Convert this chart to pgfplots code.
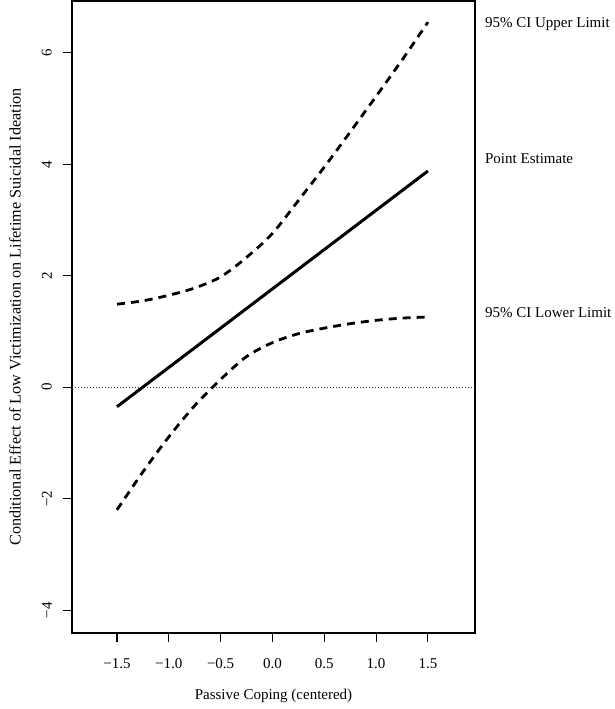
\documentclass[border=0pt]{standalone}
\usepackage{fontspec}
\setmainfont{Liberation Serif}
\usepackage{pgfplots}
\pgfplotsset{compat=1.18}
\pgfplotstableread{
x est
-1.5 -0.35
1.5 3.88
}\esttab
\pgfplotstableread{
x up
-1.50 1.49
-1.25 1.55
-1.00 1.65
-0.75 1.78
-0.50 1.98
-0.25 2.33
0.00 2.76
0.25 3.35
0.50 3.95
0.75 4.58
1.00 5.22
1.25 5.87
1.50 6.55
}\uptab
\pgfplotstableread{
x lo
-1.50 -2.20
-1.25 -1.52
-1.00 -0.89
-0.75 -0.33
-0.50 0.14
-0.25 0.55
0.00 0.80
0.25 0.96
0.50 1.06
0.75 1.14
1.00 1.20
1.25 1.24
1.50 1.26
}\lotab
\begin{document}
\fontsize{15}{18}\selectfont
\begin{tikzpicture}
\begin{axis}[
  scale only axis,
  width=403pt, height=632pt,
  xmin=-1.934, xmax=1.954, ymin=-4.41, ymax=6.93,
  xtick={-1.5,-1,-0.5,0,0.5,1,1.5},
  xticklabels={−1.5,−1.0,−0.5,0.0,0.5,1.0,1.5},
  ytick={-4,-2,0,2,4,6},
  yticklabels={−4,−2,0,2,4,6},
  xtick pos=bottom, ytick pos=left,
  tick align=outside,
  major tick length=9pt,
  tick style={line width=1.1pt, black},
  axis line style={line width=1.3pt},
  yticklabel style={rotate=90, anchor=south},
  xticklabel style={anchor=north},
  xticklabel shift=11pt,
  yticklabel shift=6pt,
  xlabel={Passive Coping (centered)},
  ylabel={Conditional Effect of Low Victimization on Lifetime Suicidal Ideation},
  xlabel style={at={(axis description cs:0.5,0)}, anchor=center, yshift=-63pt},
  ylabel style={at={(axis description cs:0,0.5)}, anchor=center, yshift=57pt, font=\fontsize{16.2}{19}\selectfont},
  clip=false,
]
\path[draw=none] (rel axis cs:0,0) ++(-72pt,-76pt) rectangle ++(614pt,709pt);
\addplot[line width=0.8pt, black!80, dash pattern=on 1pt off 2pt] coordinates {(-1.934,0) (1.954,0)};
\addplot[line width=3pt, black] table[x=x,y=est] {\esttab};
\addplot[line width=2.8pt, black, smooth, dash pattern=on 8pt off 6pt] table[x=x,y=up] {\uptab};
\addplot[line width=2.8pt, black, smooth, dash pattern=on 8pt off 6pt] table[x=x,y=lo] {\lotab};
\node[anchor=west, inner sep=0pt] at (axis cs:2.05,6.52) {95\% CI Upper Limit};
\node[anchor=west, inner sep=0pt] at (axis cs:2.05,4.10) {Point Estimate};
\node[anchor=west, inner sep=0pt] at (axis cs:2.05,1.33) {95\% CI Lower Limit};
\end{axis}
\end{tikzpicture}
\end{document}
